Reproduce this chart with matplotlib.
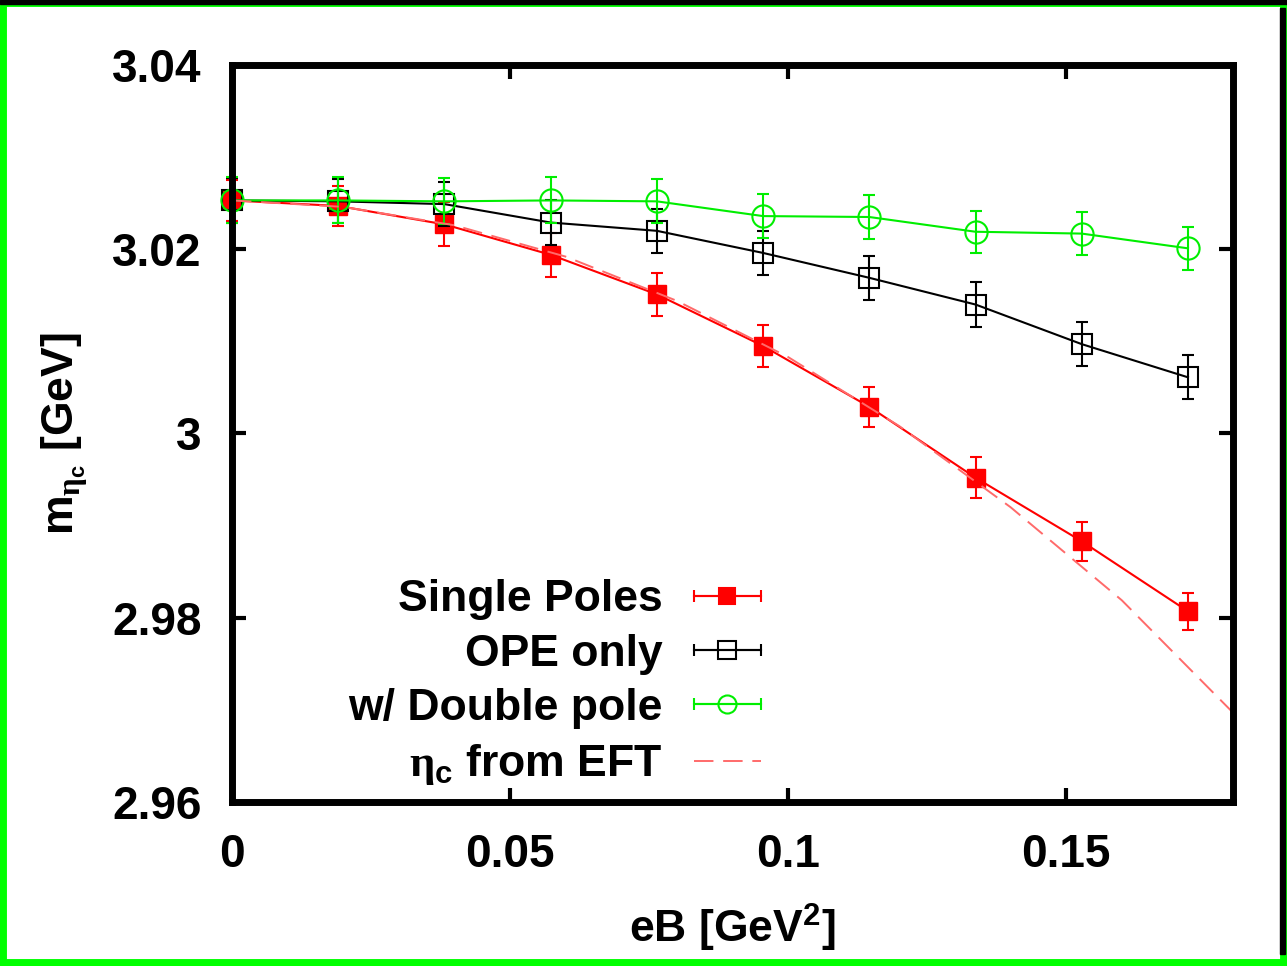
import matplotlib
matplotlib.use("Agg")
import matplotlib.pyplot as plt
from matplotlib.container import ErrorbarContainer
from matplotlib.legend_handler import HandlerErrorbar
from matplotlib.lines import Line2D
from matplotlib.collections import LineCollection
from matplotlib.patches import Rectangle

plt.rcParams['font.family'] = ['Liberation Sans', 'DejaVu Sans']
plt.rcParams['font.weight'] = 'bold'
plt.rcParams['axes.labelweight'] = 'bold'
plt.rcParams['mathtext.fontset'] = 'custom'
plt.rcParams['mathtext.rm'] = 'Liberation Sans:bold'
plt.rcParams['mathtext.sf'] = 'Liberation Sans:bold'
plt.rcParams['mathtext.it'] = 'Liberation Sans:bold:italic'
plt.rcParams['mathtext.bf'] = 'Liberation Sans:bold'
plt.rcParams['mathtext.cal'] = 'Liberation Serif'
plt.rcParams['mathtext.default'] = 'rm'

# data
eB = [0.0, 0.0191, 0.0382, 0.0573, 0.0764, 0.0955, 0.1146, 0.1337, 0.1528, 0.1719]

single_poles = [3.0253, 3.0247, 3.0227, 3.0194, 3.0151, 3.0095, 3.0029, 2.9952, 2.9883, 2.9807]
single_err = [0.0022, 0.0022, 0.0024, 0.0024, 0.0023, 0.0023, 0.0022, 0.0022, 0.0021, 0.0020]

ope_only = [3.0253, 3.0252, 3.0249, 3.0229, 3.0220, 3.0196, 3.0169, 3.0140, 3.0097, 3.0061]
ope_err = [0.0024, 0.0024, 0.0024, 0.0024, 0.0024, 0.0024, 0.0024, 0.0024, 0.0024, 0.0024]

double_pole = [3.0253, 3.0253, 3.0252, 3.0253, 3.0252, 3.0236, 3.0235, 3.0219, 3.0217, 3.0201]
double_err = [0.0025, 0.0025, 0.0025, 0.0025, 0.0024, 0.0024, 0.0024, 0.0023, 0.0023, 0.0023]

eft_x = [0.0, 0.02, 0.04, 0.06, 0.08, 0.10, 0.12, 0.14, 0.16, 0.18]
eft_y = [3.0253, 3.0246, 3.0226, 3.0192, 3.0144, 3.0083, 3.0008, 2.9920, 2.9819, 2.9697]

RED = '#ff0000'
GREEN = '#00ee00'
BLACK = '#000000'
EFT_COL = '#ff6a6a'

fig = plt.figure(figsize=(12.87, 9.66), dpi=100)
ax = fig.add_axes([232 / 1287, 1 - 802 / 966, 1001 / 1287, 737 / 966])

lw = 1.5
ax.errorbar(eB, single_poles, yerr=single_err, color=RED, lw=lw, elinewidth=lw,
            capsize=4, capthick=lw, marker='s', ms=13.5, mfc=RED, mec=RED, zorder=3, clip_on=False)
ax.errorbar(eB, ope_only, yerr=ope_err, color=BLACK, lw=lw, elinewidth=lw,
            capsize=4, capthick=lw, marker='s', ms=15, mfc='none', mec=BLACK, mew=1.5,
            zorder=4, clip_on=False)
ax.errorbar(eB, double_pole, yerr=double_err, color=GREEN, lw=lw, elinewidth=lw,
            capsize=4, capthick=lw, marker='o', ms=16, mfc='none', mec=GREEN, mew=1.5,
            zorder=5, clip_on=False)
ax.plot(eft_x, eft_y, color=EFT_COL, lw=1.4, ls=(0, (10, 5)), zorder=6)

ax.set_xlim(0, 0.18)
ax.set_ylim(2.96, 3.04)
ax.set_xticks([0, 0.05, 0.1, 0.15])
ax.set_xticklabels(['0', '0.05', '0.1', '0.15'])
ax.set_yticks([2.96, 2.98, 3.0, 3.02, 3.04])
ax.set_yticklabels(['2.96', '2.98', '3', '3.02', '3.04'])
ax.tick_params(direction='in', length=10, width=3, labelsize=33,
               top=True, right=True, pad=22)
for s in ax.spines.values():
    s.set_linewidth(5)
    s.set_zorder(8)

eta_c = r'\mathcal{\eta}_{c}'
ax.set_xlabel(r'eB [GeV$^{2}$]', fontsize=32, labelpad=18)
ax.set_ylabel(r'm$_{' + eta_c + r'}$ [GeV]', fontsize=32, labelpad=16)


def legend_handle(color, marker, mfc, ms, label):
    ln = Line2D([], [], color=color, lw=lw, marker=marker, ms=ms, mfc=mfc, mec=color, mew=1.5)
    cap = Line2D([], [], color=color, marker='|', ms=9, mew=lw, ls='none')
    bar = LineCollection([], colors=color, linewidths=lw)
    return ErrorbarContainer((ln, (cap, cap), (bar,)), has_xerr=True, has_yerr=False, label=label)


handles = [
    legend_handle(RED, 's', RED, 12, 'Single Poles'),
    legend_handle(BLACK, 's', 'none', 13, 'OPE only'),
    legend_handle(GREEN, 'o', 'none', 13, 'w/ Double pole'),
    Line2D([], [], color=EFT_COL, lw=1.4, ls=(0, (10, 5)), label=r'$' + eta_c + r'$ from EFT'),
]
ax.legend(handles=handles, loc='lower right', bbox_to_anchor=(0.528, 0.02),
          frameon=False, markerfirst=False, fontsize=32, handlelength=1.5,
          handletextpad=0.7, labelspacing=0.3, borderpad=0, borderaxespad=0, numpoints=1,
          handler_map={ErrorbarContainer: HandlerErrorbar(xerr_size=0.75)})

# frame around the picture
fig.patches.append(Rectangle((0, 0), 1, 1, transform=fig.transFigure, fill=False,
                             edgecolor='#00ff00', lw=10, zorder=10))
fig.patches.append(Rectangle((0, 1 - 4 / 966), 1, 4 / 966, transform=fig.transFigure,
                             color='black', zorder=11))
fig.patches.append(Rectangle((1280 / 1287, 12 / 966), 5 / 1287, 946 / 966,
                             transform=fig.transFigure, color='black', zorder=11))

fig.savefig('out.png', dpi=100)
